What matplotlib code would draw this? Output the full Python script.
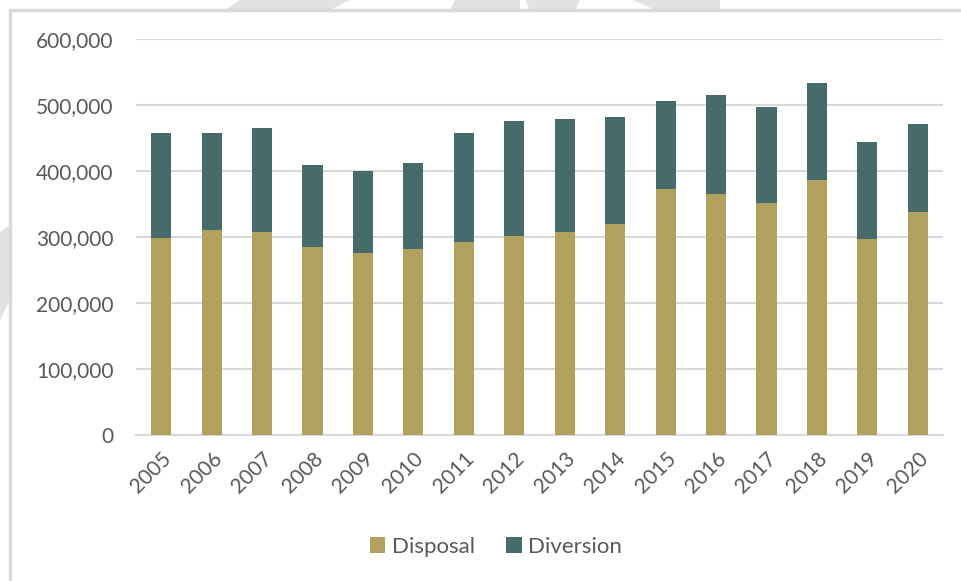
import matplotlib.pyplot as plt
from matplotlib.patches import Rectangle, Polygon
from matplotlib.ticker import FuncFormatter
import numpy as np

years = [str(y) for y in range(2005, 2021)]
totals = [457000, 457000, 465000, 409000, 399000, 412000, 457000, 475000,
          479000, 481000, 506000, 515000, 496000, 533000, 444000, 471000]
disposal = [299000, 310000, 307000, 285000, 275000, 281000, 292000, 302000,
            308000, 320000, 372000, 365000, 351000, 386000, 297000, 337000]
diversion = [t - d for t, d in zip(totals, disposal)]

DISPOSAL_COLOR = '#B0A25E'
DIVERSION_COLOR = '#476B6A'
TEXT_COLOR = '#595959'
GRID_COLOR = '#D9D9D9'

plt.rcParams['font.family'] = ['Lato', 'DejaVu Sans']

W, H = 961, 581
fig = plt.figure(figsize=(W / 100, H / 100), dpi=100)

# watermark scraps peeking out around the chart frame
wm = '#E2E2E2'
for pts in [[(240, 0), (350, 0), (330, 10), (225, 10)],
            [(455, 0), (520, 0), (520, 10), (450, 10)],
            [(525, 0), (580, 0), (575, 10), (530, 10)],
            [(633, 0), (720, 0), (720, 10), (655, 10)],
            [(0, 232), (10, 225), (10, 300), (0, 320)]]:
    fig.patches.append(Polygon([(x / W, 1 - y / H) for x, y in pts],
                               closed=True, transform=fig.transFigure,
                               facecolor=wm, edgecolor='none', zorder=0))

# chart frame
fig.patches.append(Rectangle((10 / W, -0.1), 1.2, 1 - 10 / H + 0.1,
                             transform=fig.transFigure, facecolor='white',
                             edgecolor=GRID_COLOR, linewidth=2.5, zorder=1))

ax = fig.add_axes([136 / W, 1 - 435 / H, (943 - 136) / W, (435 - 38.7) / H])
ax.set_facecolor('none')
ax.set_zorder(2)

x = np.arange(len(years))
ax.bar(x, disposal, width=0.4, color=DISPOSAL_COLOR, label='Disposal', zorder=3)
ax.bar(x, diversion, width=0.4, bottom=disposal, color=DIVERSION_COLOR,
       label='Diversion', zorder=3)

ax.set_xlim(-0.5, len(years) - 0.5)
ax.set_ylim(0, 600000)
ax.set_yticks(range(0, 600001, 100000))
ax.yaxis.set_major_formatter(FuncFormatter(lambda v, p: f'{int(v):,}'))
ax.grid(axis='y', color=GRID_COLOR, linewidth=1.5, zorder=0)
ax.set_axisbelow(True)

for s in ['top', 'right', 'left']:
    ax.spines[s].set_visible(False)
ax.spines['bottom'].set_color(GRID_COLOR)
ax.spines['bottom'].set_linewidth(1.5)

ax.set_xticks(x)
ax.set_xticklabels(years, rotation=45, ha='right', rotation_mode='anchor')
ax.tick_params(axis='both', length=0, colors=TEXT_COLOR, labelsize=15)
ax.tick_params(axis='y', pad=16)
ax.tick_params(axis='x', pad=10)

fig.legend(loc='center', bbox_to_anchor=(496 / W, 1 - 547 / H), ncol=2,
           frameon=False, fontsize=16, labelcolor=TEXT_COLOR,
           handlelength=0.7, handleheight=0.7, handletextpad=0.3,
           columnspacing=1.4)

fig.savefig('out.png', dpi=100)
